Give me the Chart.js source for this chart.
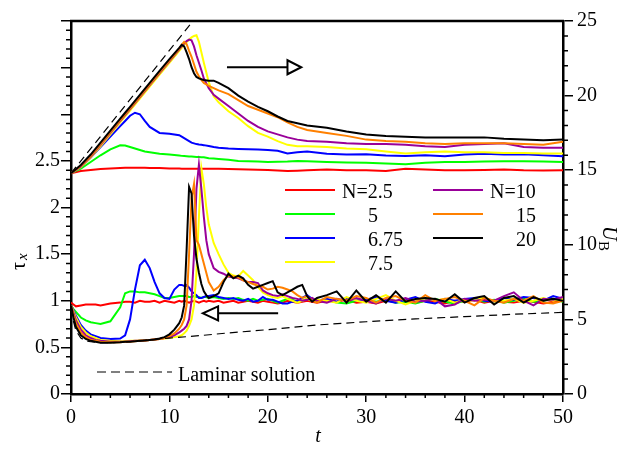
<!DOCTYPE html>
<html>
<head>
<meta charset="utf-8">
<script src="https://cdn.jsdelivr.net/npm/chart.js@4.4.0/dist/chart.umd.min.js"></script>
<style>
  body { margin: 0; background: #fff; }
  canvas { display: block; }
</style>
</head>
<body>
<canvas id="chart" width="624" height="452"></canvas>
<script>
// bulk velocity U_B (right axis) sampled on tU
const tU = [0, 1, 2, 3, 4, 5, 5.5, 6, 6.5, 7, 7.5, 8, 9, 10, 11, 11.25, 11.5, 11.75, 12, 12.25, 12.5, 12.75, 13, 13.25, 13.5,
  14, 14.5, 15, 16, 17, 18, 19, 20, 21, 22, 23, 24, 26, 28, 30, 32, 34, 36, 38, 40, 42, 44, 46, 48, 50];
const uRed = [14.8, 14.95, 15.02, 15.08, 15.12, 15.15, 15.16, 15.17, 15.17, 15.16, 15.16, 15.15, 15.14, 15.12, 15.11, 15.1, 15.1, 15.1, 15.1, 15.1, 15.1, 15.1, 15.1, 15.1, 15.1,
  15.1, 15.09, 15.09, 15.08, 15.06, 15.05, 15.03, 15.02, 14.98, 14.95, 14.97, 15.0, 15.05, 15.0, 15.0, 14.95, 15.1, 15.05, 15.0, 15.0, 15.02, 15.05, 15.0, 14.98, 15.0];
const uGreen = [14.8, 15.1, 15.55, 16.0, 16.4, 16.67, 16.65, 16.55, 16.45, 16.35, 16.25, 16.2, 16.1, 16.05, 15.98, 15.96, 15.95, 15.94, 15.92, 15.91, 15.9, 15.89, 15.88, 15.87, 15.86,
  15.8, 15.78, 15.75, 15.7, 15.62, 15.6, 15.58, 15.55, 15.56, 15.58, 15.62, 15.6, 15.55, 15.52, 15.5, 15.45, 15.4, 15.5, 15.55, 15.55, 15.58, 15.6, 15.6, 15.58, 15.55];
const uBlue = [14.8, 15.2, 15.85, 16.55, 17.25, 17.95, 18.3, 18.65, 18.85, 18.75, 18.3, 17.9, 17.5, 17.45, 17.35, 17.25, 17.15, 17.05, 16.95, 16.85, 16.8, 16.75, 16.72, 16.7, 16.68,
  16.62, 16.55, 16.5, 16.45, 16.42, 16.4, 16.38, 16.36, 16.3, 16.12, 16.2, 16.25, 16.1, 16.05, 16.07, 15.98, 15.95, 16.0, 15.94, 16.05, 16.1, 16.05, 16.07, 16.0, 15.94];
const uYellow = [14.8, 15.2, 15.85, 16.6, 17.4, 18.2, 18.6, 19.0, 19.4, 19.8, 20.2, 20.6, 21.4, 22.2, 23.0, 23.2, 23.4, 23.6, 23.75, 23.9, 24.0, 24.05, 23.6, 22.9, 22.2,
  20.9, 19.95, 19.55, 18.95, 18.5, 17.95, 17.5, 17.25, 16.95, 16.7, 16.6, 16.6, 16.55, 16.45, 16.4, 16.25, 16.12, 16.2, 16.25, 16.2, 16.2, 16.15, 16.15, 16.12, 16.12];
const uPurple = [14.8, 15.25, 15.9, 16.7, 17.5, 18.3, 18.7, 19.1, 19.5, 19.9, 20.3, 20.7, 21.5, 22.3, 23.1, 23.3, 23.5, 23.65, 23.75, 23.7, 23.3, 22.7, 22.2, 21.7, 21.15,
  20.5, 20.05, 19.8, 19.3, 18.8, 18.3, 17.9, 17.6, 17.4, 17.2, 17.05, 16.95, 16.9, 16.8, 16.75, 16.75, 16.7, 16.6, 16.55, 16.7, 16.75, 16.8, 16.55, 16.5, 16.5];
const uOrange = [14.8, 15.3, 15.95, 16.75, 17.55, 18.35, 18.75, 19.15, 19.55, 19.95, 20.35, 20.75, 21.55, 22.35, 23.15, 23.4, 23.6, 23.45, 23.0, 22.6, 22.1, 21.6, 21.3, 21.05, 20.85,
  20.65, 20.5, 20.35, 20.1, 19.7, 19.3, 19.05, 18.8, 18.55, 18.2, 17.9, 17.7, 17.5, 17.3, 17.05, 16.95, 16.9, 16.8, 16.75, 16.8, 16.8, 16.8, 16.75, 16.7, 16.9];
const uBlack = [14.8, 15.35, 16.05, 16.85, 17.65, 18.45, 18.85, 19.25, 19.65, 20.05, 20.45, 20.85, 21.65, 22.45, 23.2, 23.4, 23.3, 22.9, 22.45, 21.9, 21.5, 21.25, 21.15, 21.1, 21.05,
  21.0, 21.0, 20.85, 20.5, 20.0, 19.6, 19.25, 18.95, 18.6, 18.3, 18.15, 18.0, 17.85, 17.6, 17.4, 17.3, 17.25, 17.2, 17.2, 17.2, 17.2, 17.1, 17.05, 17.0, 17.05];

// wall stress tau_x (left axis) sampled on tTau
const tTau = [0, 0.25, 0.5, 1, 1.5, 2, 2.5, 3,
  4, 5,
  5.5, 6, 6.5, 7, 7.5, 8, 8.5, 9, 9.5, 10, 10.5,
  11, 11.25, 11.5, 11.75, 12, 12.25, 12.5, 12.75, 13, 13.25, 13.5, 13.75, 14,
  14.5, 15, 15.5, 16, 16.5, 17, 17.5, 18, 18.5, 19, 19.5, 20, 20.5, 21, 21.5, 22, 22.5, 23, 23.5, 24, 24.5, 25,
  26, 27, 28, 29, 30, 31, 32, 33, 34, 35, 36, 37, 38, 39, 40, 41, 42, 43, 44, 45, 46, 47, 48, 49, 50];
const tauRed = [0.98, 0.96, 0.94, 0.95, 0.96, 0.96, 0.96, 0.95,
  0.97, 0.98,
  0.99, 0.99, 0.98, 1.0, 0.99, 0.99, 1.0, 0.98, 1.0, 0.99, 0.98,
  1.0, 0.99, 1.0, 0.99, 0.98, 0.99, 1.0, 0.99, 0.98, 0.99, 1.0, 0.99, 1.0,
  0.99, 1.0, 0.98, 0.99, 1.0, 0.98, 0.99, 1.0, 0.99, 0.98, 1.0, 0.99, 0.98, 0.97, 0.98, 1.0, 0.99, 0.98, 0.99, 1.0, 0.99, 0.98,
  1.0, 0.99, 1.01, 0.98, 0.99, 0.97, 1.0, 0.99, 1.01, 0.98, 1.0, 0.99, 0.97, 1.0, 0.99, 1.01, 0.98, 1.0, 0.99, 0.98, 1.0, 0.99, 0.97, 0.99, 1.0];
const tauGreen = [0.95, 0.91, 0.88, 0.82, 0.79, 0.77, 0.76, 0.75,
  0.78, 0.93,
  1.08, 1.1, 1.1, 1.09, 1.09, 1.08, 1.07, 1.05, 1.03, 1.03, 1.04,
  1.05, 1.05, 1.05, 1.05, 1.04, 1.04, 1.05, 1.04, 1.04, 1.03, 1.04, 1.04, 1.03,
  1.04, 1.03, 1.02, 1.03, 1.02, 1.03, 1.01, 1.0, 1.02, 1.0, 1.01, 1.02, 1.0, 0.98, 1.0, 1.02, 1.01, 0.99, 1.0, 1.02, 1.0, 0.99,
  1.01, 0.98, 0.97, 1.0, 1.02, 0.99, 1.01, 0.98, 0.99, 0.97, 1.0, 1.02, 0.99, 0.97, 1.0, 1.02, 0.99, 1.01, 0.98, 1.0, 1.02, 0.99, 1.0, 1.02, 0.99];
const tauBlue = [0.95, 0.9, 0.84, 0.74, 0.68, 0.64, 0.62, 0.6,
  0.59, 0.595,
  0.63, 0.8, 1.12, 1.38, 1.44, 1.35, 1.2, 1.08, 1.03, 1.02, 1.12,
  1.17, 1.17, 1.16, 1.17, 1.14, 1.1, 1.08, 1.06, 1.03, 1.03, 1.04, 1.05, 1.05,
  1.06, 1.04, 1.03, 1.02, 1.03, 1.01, 1.0, 1.02, 0.99, 1.0, 1.04, 1.01, 1.01, 0.99, 0.97, 0.97, 0.99, 1.0, 1.03, 1.06, 1.02, 1.0,
  1.02, 0.99, 1.03, 1.0, 1.01, 1.04, 1.0, 0.98, 1.01, 1.04, 0.99, 0.97, 1.02, 1.0, 1.02, 1.03, 1.0, 0.99, 1.03, 1.01, 1.04, 1.03, 1.0, 1.05, 1.02];
const tauYellow = [0.95, 0.89, 0.82, 0.72, 0.66, 0.62, 0.6, 0.58,
  0.57, 0.565,
  0.565, 0.57, 0.57, 0.575, 0.575, 0.58, 0.585, 0.59, 0.595, 0.6, 0.61,
  0.62, 0.63, 0.65, 0.68, 0.73, 0.8, 0.95, 1.3, 1.9, 2.42, 2.25, 2.0, 1.82,
  1.62, 1.5, 1.39, 1.3, 1.27, 1.26, 1.32, 1.27, 1.22, 1.15, 1.09, 1.06, 1.04, 1.03, 1.05, 1.02, 1.0, 0.98, 1.0, 1.02, 1.0, 1.01,
  1.0, 0.98, 1.04, 1.0, 0.98, 1.02, 1.06, 1.0, 0.96, 1.0, 1.03, 1.0, 1.02, 0.98, 1.01, 1.0, 1.04, 0.99, 1.0, 1.02, 0.98, 1.0, 1.03, 1.0, 1.02];
const tauPurple = [0.95, 0.87, 0.79, 0.69, 0.63, 0.6, 0.58, 0.57,
  0.56, 0.56,
  0.56, 0.565, 0.57, 0.57, 0.575, 0.58, 0.585, 0.59, 0.6, 0.61, 0.63,
  0.66, 0.68, 0.7, 0.73, 0.8, 1.0, 1.5, 2.2, 2.46, 2.2, 1.9, 1.65, 1.5,
  1.35, 1.31, 1.29, 1.26, 1.25, 1.24, 1.22, 1.2, 1.2, 1.19, 1.11, 1.08, 1.06, 1.05, 1.07, 1.05, 1.03, 1.02, 1.0, 1.01, 1.03, 1.0,
  0.98, 1.02, 1.0, 1.03, 1.0, 0.97, 1.02, 1.0, 1.03, 0.99, 1.0, 1.02, 0.94, 0.96, 1.02, 1.0, 1.01, 1.0, 1.05, 1.09, 1.0, 0.95, 1.02, 1.01, 1.04];
const tauOrange = [0.95, 0.85, 0.76, 0.66, 0.61, 0.58, 0.57, 0.56,
  0.555, 0.555,
  0.56, 0.56, 0.565, 0.57, 0.575, 0.58, 0.585, 0.59, 0.6, 0.62, 0.65,
  0.7, 0.74, 0.8, 0.95, 1.5, 2.1, 2.25, 1.65, 1.6, 1.5, 1.4, 1.3, 1.2,
  1.11, 1.15, 1.22, 1.27, 1.26, 1.25, 1.22, 1.2, 1.18, 1.16, 1.15, 1.12, 1.13, 1.15, 1.14, 1.12, 1.1, 1.06, 1.03, 1.05, 1.0, 0.98,
  1.04, 1.02, 1.0, 1.05, 1.03, 0.98, 1.03, 1.05, 1.0, 0.98, 1.06, 1.0, 1.02, 1.04, 1.0, 0.95, 1.03, 1.0, 0.98, 1.02, 1.0, 1.05, 0.98, 0.97, 1.0];
const tauBlack = [0.95, 0.82, 0.72, 0.63, 0.59, 0.57, 0.56, 0.55,
  0.55, 0.555,
  0.56, 0.56, 0.565, 0.57, 0.575, 0.58, 0.585, 0.595, 0.61, 0.64, 0.69,
  0.76, 0.82, 0.95, 1.55, 2.22, 2.15, 1.7, 1.45, 1.3, 1.18, 1.1, 1.06, 1.03,
  1.05, 1.08, 1.2, 1.29, 1.24, 1.27, 1.24, 1.17, 1.13, 1.15, 1.17, 1.19, 1.21, 1.09, 1.06, 1.09, 1.12, 1.15, 1.17, 1.05, 0.99, 1.03,
  1.06, 1.1, 0.98, 1.11, 0.99, 1.06, 0.98, 1.1, 0.99, 1.02, 1.03, 1.02, 0.99, 1.07, 0.98, 1.03, 1.05, 0.96, 1.03, 1.05, 0.98, 1.04, 1.0, 1.02, 1.0];

// laminar solution (dashed)
const tLamU = [0, 12.4];
const lamU = [14.8, 25];
const tLamTau = [0.05, 0.25, 0.5, 1, 1.5, 2, 3, 4, 5, 7, 10, 13, 16, 20, 25, 30, 35, 40, 45, 50];
const lamTau = [0.92, 0.78, 0.68, 0.6, 0.57, 0.56, 0.55, 0.55, 0.555, 0.57, 0.6, 0.625, 0.655, 0.69, 0.74, 0.775, 0.805, 0.83, 0.855, 0.875];

const seriesLabels = ['N=2.5', '5', '6.75', '7.5', 'N=10', '15', '20'];
const seriesColors = ['#ff0000', '#00ff00', '#0000ff', '#ffff00', '#990099', '#ff8000', '#000000'];
const uSeries = [uRed, uGreen, uBlue, uYellow, uPurple, uOrange, uBlack];
const tauSeries = [tauRed, tauGreen, tauBlue, tauYellow, tauPurple, tauOrange, tauBlack];

const serif = '"Liberation Serif", "Times New Roman", serif';

function pts(ts, vs) {
  return ts.map((t, i) => ({ x: t, y: vs[i] }));
}

// dataset 0 is drawn on top, so black goes first
const datasets = [];
datasets.push({ data: pts(tLamU, lamU), yAxisID: 'y2', borderColor: '#000', borderWidth: 1.2, borderDash: [8, 5] });
datasets.push({ data: pts(tLamTau, lamTau), yAxisID: 'y', borderColor: '#000', borderWidth: 1.2, borderDash: [8, 5] });
for (let i = seriesColors.length - 1; i >= 0; i--) {
  datasets.push({ data: pts(tU, uSeries[i]), yAxisID: 'y2', borderColor: seriesColors[i], borderWidth: 2 });
  datasets.push({ data: pts(tTau, tauSeries[i]), yAxisID: 'y', borderColor: seriesColors[i], borderWidth: 2 });
}

// frame, minor ticks, arrows, legend and axis titles
const decor = {
  id: 'decor',
  afterDraw(chart) {
    const ctx = chart.ctx;
    const a = chart.chartArea;
    const sx = chart.scales.x, sy = chart.scales.y, sy2 = chart.scales.y2;
    ctx.save();
    ctx.strokeStyle = '#000';
    ctx.fillStyle = '#000';

    // top frame line
    ctx.lineWidth = 2.5;
    ctx.beginPath();
    ctx.moveTo(a.left - 1, a.top);
    ctx.lineTo(a.right + 1, a.top);
    ctx.stroke();

    // minor ticks
    ctx.lineWidth = 1.5;
    ctx.beginPath();
    for (let k = 0; k <= 40; k++) {
      if (k % 5 === 0) continue;
      const y = sy.getPixelForValue(k / 10);
      ctx.moveTo(a.left - 5, y); ctx.lineTo(a.left, y);
    }
    for (let k = 0; k <= 25; k++) {
      if (k % 5 === 0) continue;
      const y = sy2.getPixelForValue(k);
      ctx.moveTo(a.right, y); ctx.lineTo(a.right + 5, y);
    }
    for (let k = 0; k <= 50; k += 2) {
      if (k % 10 === 0) continue;
      const x = sx.getPixelForValue(k);
      ctx.moveTo(x, a.bottom); ctx.lineTo(x, a.bottom + 4);
    }
    ctx.stroke();

    // arrows: U_B -> right axis, tau -> left axis
    ctx.lineWidth = 2;
    let y = sy2.getPixelForValue(21.9);
    let x0 = sx.getPixelForValue(15.85), x1 = sx.getPixelForValue(22.0), x2 = sx.getPixelForValue(23.4);
    ctx.beginPath();
    ctx.moveTo(x0, y); ctx.lineTo(x1, y);
    ctx.moveTo(x1, y - 7); ctx.lineTo(x2, y); ctx.lineTo(x1, y + 7); ctx.closePath();
    ctx.stroke();
    y = sy.getPixelForValue(0.865);
    x0 = sx.getPixelForValue(21.05); x1 = sx.getPixelForValue(14.95); x2 = sx.getPixelForValue(13.4);
    ctx.beginPath();
    ctx.moveTo(x0, y); ctx.lineTo(x1, y);
    ctx.moveTo(x1, y - 7); ctx.lineTo(x2, y); ctx.lineTo(x1, y + 7); ctx.closePath();
    ctx.stroke();

    // legend
    ctx.font = '20px ' + serif;
    ctx.textBaseline = 'middle';
    ctx.textAlign = 'left';
    const rows = [190, 214, 238, 262];
    seriesLabels.forEach((lab, i) => {
      const col = i < 4 ? 0 : 1;
      const ry = rows[col ? i - 4 : i];
      const lx = col ? 433 : 285;
      ctx.strokeStyle = seriesColors[i];
      ctx.lineWidth = 2;
      ctx.beginPath();
      ctx.moveTo(lx, ry); ctx.lineTo(lx + 50, ry);
      ctx.stroke();
      const tx = lab.startsWith('N') ? lx + 57 : lx + 83;
      ctx.fillText(lab, tx, ry + 3);
    });

    // laminar legend
    ctx.strokeStyle = '#000';
    ctx.lineWidth = 1.2;
    ctx.setLineDash([9, 5]);
    ctx.beginPath();
    ctx.moveTo(97, 372); ctx.lineTo(172, 372);
    ctx.stroke();
    ctx.setLineDash([]);
    ctx.fillText('Laminar solution', 178, 376);

    // axis titles
    ctx.textAlign = 'center';
    ctx.font = 'italic 20px ' + serif;
    ctx.fillText('t', 318, 437);

    ctx.save();
    ctx.translate(20, 262);
    ctx.rotate(-Math.PI / 2);
    ctx.textAlign = 'left';
    ctx.font = '20px ' + serif;
    ctx.fillText('\u03c4', -8, 0);
    ctx.font = 'italic 15px ' + serif;
    ctx.fillText('x', 2, 3);
    ctx.restore();

    ctx.save();
    ctx.translate(608, 238);
    ctx.rotate(Math.PI / 2);
    ctx.textAlign = 'left';
    ctx.font = 'italic 20px ' + serif;
    ctx.fillText('U', -12, 0);
    ctx.font = '15px ' + serif;
    ctx.fillText('B', 3, 5);
    ctx.restore();

    ctx.restore();
  }
};

const axisFont = { family: serif, size: 20 };

new Chart(document.getElementById('chart'), {
  type: 'line',
  data: { datasets: datasets },
  options: {
    responsive: false,
    animation: false,
    devicePixelRatio: 1,
    layout: { padding: { top: 21, left: 0, right: 0, bottom: 0 } },
    elements: { point: { radius: 0 }, line: { tension: 0 } },
    plugins: { legend: { display: false }, tooltip: { enabled: false } },
    scales: {
      x: {
        type: 'linear', min: 0, max: 50,
        afterFit(s) { s.height = 58; },
        ticks: { stepSize: 10, color: '#000', font: axisFont, padding: 4, maxRotation: 0 },
        grid: { drawOnChartArea: false, tickLength: 8, color: '#000', lineWidth: 1.5 },
        border: { color: '#000', width: 2.5 }
      },
      y: {
        position: 'left', min: 0, max: 4,
        afterFit(s) { s.width = 71; },
        ticks: { stepSize: 0.5, color: '#000', font: axisFont, padding: 1,
          callback: v => (v <= 2.5 ? String(v) : '') },
        grid: { drawOnChartArea: false, tickLength: 10, color: '#000', lineWidth: 1.5 },
        border: { color: '#000', width: 2.5 }
      },
      y2: {
        position: 'right', min: 0, max: 25,
        afterFit(s) { s.width = 61; },
        ticks: { stepSize: 5, color: '#000', font: axisFont, padding: 4 },
        grid: { drawOnChartArea: false, tickLength: 10, color: '#000', lineWidth: 1.5 },
        border: { color: '#000', width: 2.5 }
      }
    }
  },
  plugins: [decor]
});
</script>
</body>
</html>
